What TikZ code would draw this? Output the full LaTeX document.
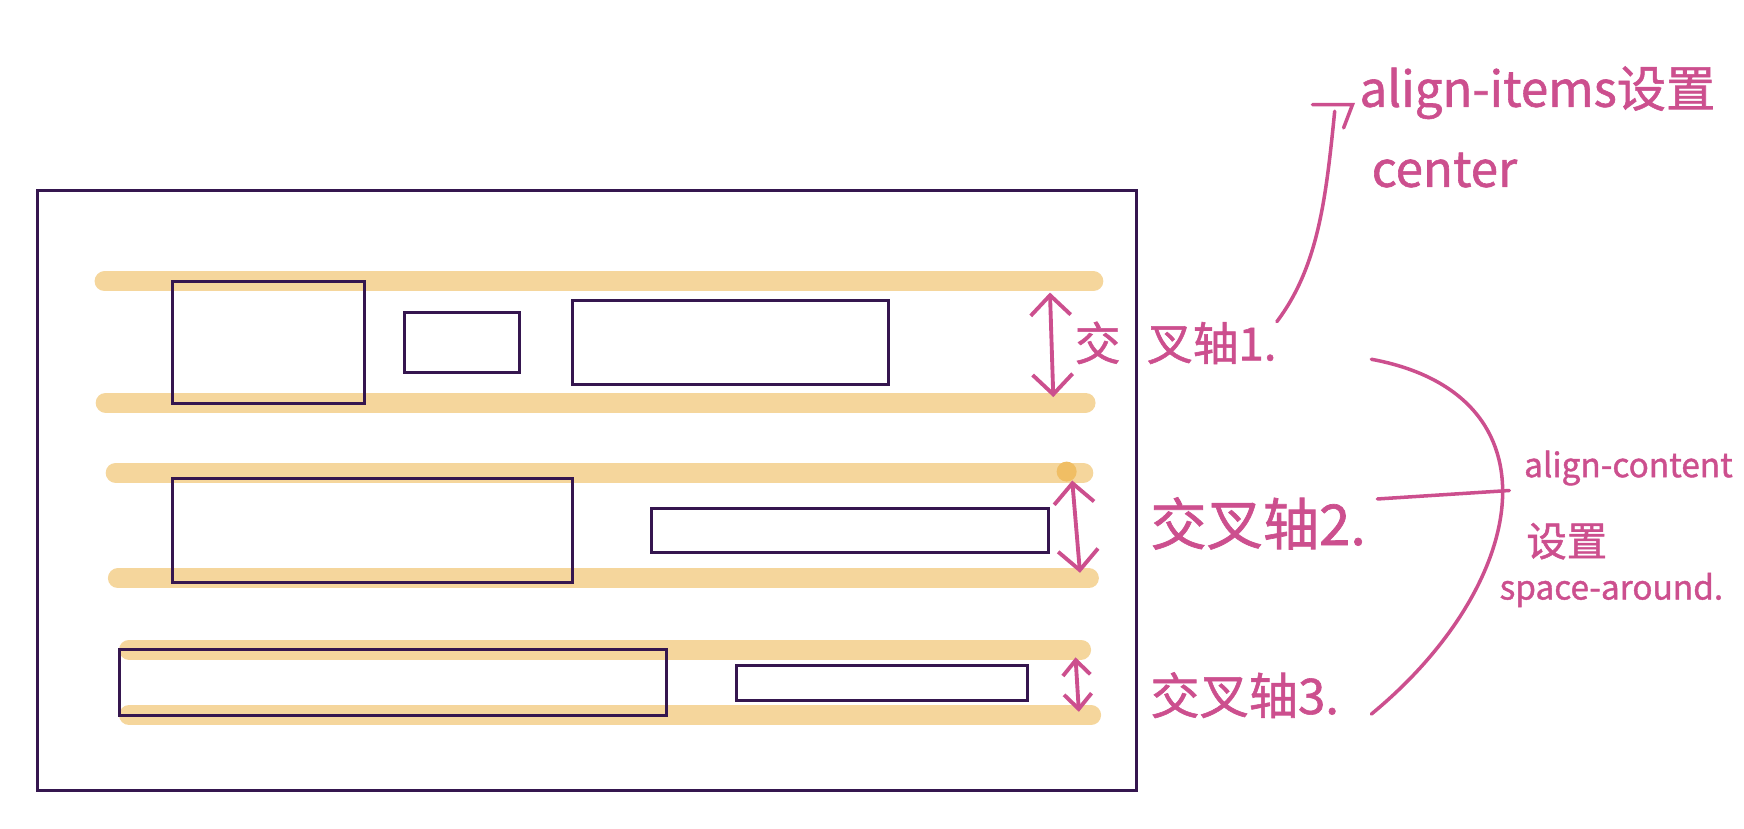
\documentclass[tikz,border=0pt]{standalone}
\usepackage{fontspec}
\newfontfamily\cjk[FakeBold=1.2]{Noto Sans CJK SC}
\usetikzlibrary{arrows.meta, positioning}
\definecolor{inkpink}{HTML}{CC4F8E}
\definecolor{boxpurple}{HTML}{35164F}
\definecolor{barorange}{HTML}{F5D69C}
\definecolor{dotorange}{HTML}{F0BE64}

\begin{document}
\begin{tikzpicture}[
    x=0.022245cm, y=-0.022245cm,
    item/.style={draw=boxpurple, line width=1.7pt},
    bar/.style={line width=0.4cm, line cap=round, color=barorange},
    cross/.style={{Straight Barb[length=4mm,width=8mm]}-{Straight Barb[length=4mm,width=8mm]}, line width=2.2pt, color=inkpink},
    smallcross/.style={{Straight Barb[length=3mm,width=5.5mm]}-{Straight Barb[length=3mm,width=5.5mm]}, line width=2.2pt, color=inkpink},
    note/.style={font=\cjk, text=inkpink, inner sep=0pt, anchor=base west},
    link/.style={line width=2pt, color=inkpink, line cap=round}
]
\useasboundingbox (0,0) rectangle (1568,745);

% flex container
\draw[item] (34,171) rectangle (1022,711);

% line boundaries
\draw[bar] (94,253) -- (983,253);
\draw[bar] (95,362) -- (976,362);
\draw[bar] (104,425) -- (974,425);
\draw[bar] (106,520) -- (979,520);
\draw[bar] (116,584) -- (972,584);
\draw[bar] (116,643) -- (981,643);
\fill[dotorange] (959,424) circle (9);

% items
\draw[item] (155,253) rectangle (328,363);
\draw[item] (364,281) rectangle (467,335);
\draw[item] (515,270) rectangle (799,346);
\draw[item] (155,430) rectangle (515,524);
\draw[item] (586,457) rectangle (943,497);
\draw[item] (107,584) rectangle (599,643);
\draw[item] (662,598) rectangle (924,630);

% cross axis arrows
\coordinate (c1t) at (944,263);
\coordinate (c1b) at (947,357);
\coordinate (c2t) at (964,432);
\coordinate (c2b) at (971,515);
\coordinate (c3t) at (967,591);
\coordinate (c3b) at (970,640);
\draw[cross] (c1t) -- (c1b);
\draw[cross] (c2t) -- (c2b);
\draw[smallcross] (c3t) -- (c3b);

% labels
\node[note, font=\cjk\fontsize{26}{30}\selectfont] (ax1a) at (966,324) {交};
\node[note, font=\cjk\fontsize{26}{30}\selectfont] (ax1) at (1031,324) {叉轴1.};
\node[note, font=\cjk\fontsize{32}{36}\selectfont] (ax2) at (1034,490) {交叉轴2.};
\node[note, font=\cjk\fontsize{28}{32}\selectfont] (ax3) at (1034,642) {交叉轴3.};
\node[note, font=\cjk\fontsize{28}{32}\selectfont] (ai1) at (1222,96) {align-items设置};
\node[note, font=\cjk\fontsize{28}{32}\selectfont] (ai2) at (1233,168) {center};
\node[note, font=\cjk\fontsize{19}{24}\selectfont] (ac1) at (1370,429) {align-content};
\node[note, font=\cjk\fontsize{23}{26}\selectfont] (ac2) at (1372,500) {设置};
\node[note, font=\cjk\fontsize{19}{24}\selectfont] (ac3) at (1348,539) {space-around.};

% align-items pointer
\coordinate (hook) at (1200,100);
\draw[link] (ax1.north east) .. controls (1185,240) and (1192,180) .. (hook);
\draw[link] (1180,94) -- (1216,94) -- (1208,115);

% align-content brace
\coordinate (bracetop) at (1233,323);
\coordinate (bracebot) at (1233,642);
\coordinate (bracemid) at (1357,441);
\draw[link] (bracetop) .. controls (1405,355) and (1375,525) .. (bracebot);
\draw[link] (ax2.east) ++(10,-22) -- (bracemid);
\end{tikzpicture}
\end{document}
